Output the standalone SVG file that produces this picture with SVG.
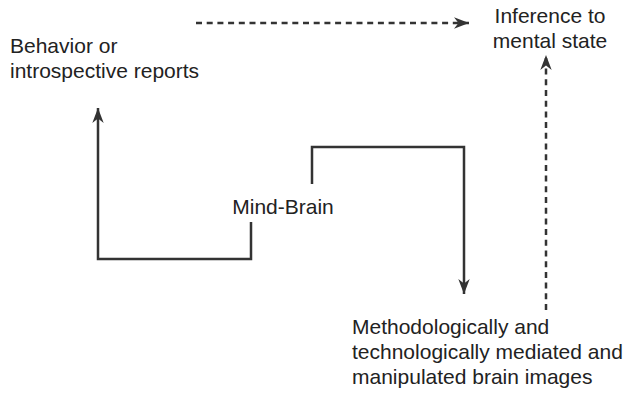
<svg xmlns="http://www.w3.org/2000/svg" width="627" height="395" viewBox="0 0 627 395">
<style>
text{font-family:"Liberation Sans",Arial,sans-serif;font-size:21px;fill:#222}
.c{fill:none;stroke:#333;stroke-width:2.5}
.d{stroke-dasharray:6 4.7}
</style>
<defs>
<marker id="ah" viewBox="0 0 10 10" refX="10" refY="5" markerWidth="6" markerHeight="6" orient="auto" markerUnits="strokeWidth">
<path d="M0,1.2 L10,5 L0,8.8 L3,5 Z" fill="#333"/>
</marker>
</defs>
<rect width="627" height="395" fill="#fff"/>
<g id="connectors">
<path class="c" d="M251,222 V259 H98 V108" marker-end="url(#ah)"/>
<path class="c" d="M312,184 V147 H464 V294" marker-end="url(#ah)"/>
<path class="c d" d="M196,23 H469" marker-end="url(#ah)"/>
<path class="c d" d="M546,310 V55" marker-end="url(#ah)"/>
</g>
<g id="inference"><text x="550" y="23" text-anchor="middle">Inference to</text><text x="550" y="48" text-anchor="middle">mental state</text></g>
<g id="behavior"><text x="10" y="53">Behavior or</text><text x="10" y="78">introspective reports</text></g>
<g id="mindbrain"><text x="283" y="214" text-anchor="middle">Mind-Brain</text></g>
<g id="images"><text x="352" y="334">Methodologically and</text><text x="352" y="359">technologically mediated and</text><text x="352" y="384">manipulated brain images</text></g>
</svg>
